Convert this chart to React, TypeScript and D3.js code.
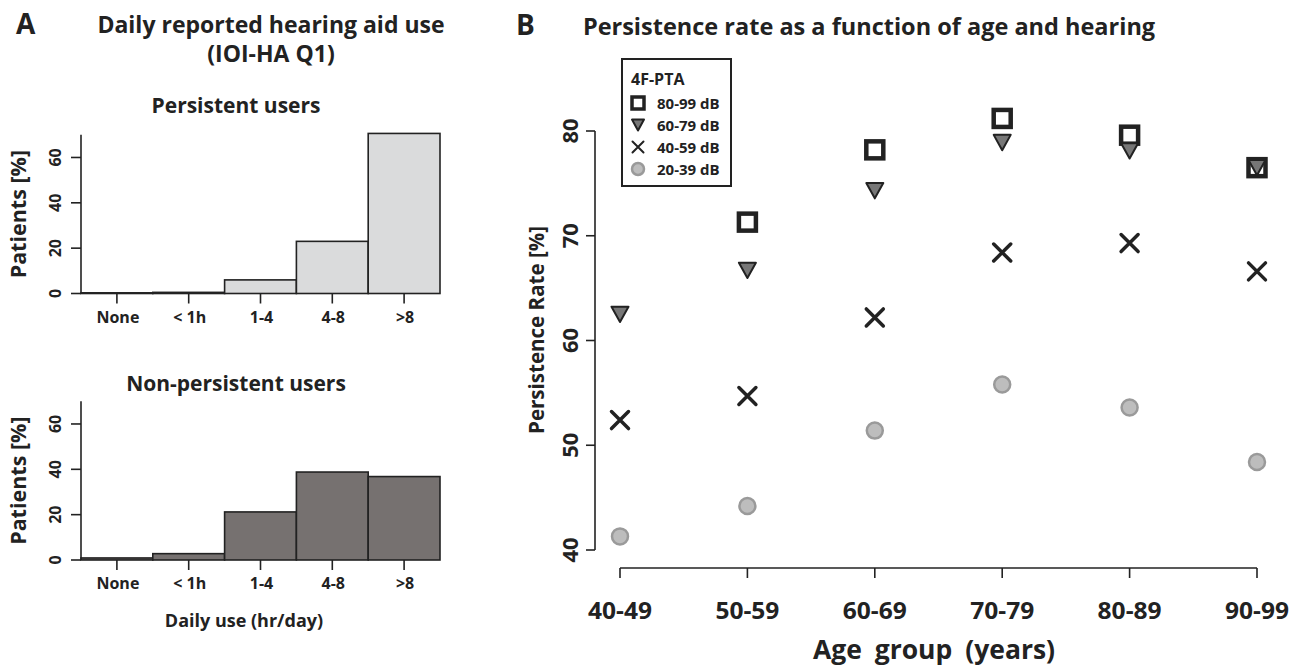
import React from "react";
import * as d3 from "d3";

const useCats = ["None", "< 1h", "1-4", "4-8", ">8"];
const persistent = [0.3, 0.5, 6, 23, 70.6];
const nonPersistent = [0.9, 2.8, 21.2, 38.8, 36.8];
const histTicks = [0, 20, 40, 60];

const ageGroups = ["40-49", "50-59", "60-69", "70-79", "80-89", "90-99"];
const rateTicks = [40, 50, 60, 70, 80];
const pta8099 = [null, 71.3, 78.2, 81.2, 79.6, 76.5];
const pta6079 = [62.5, 66.7, 74.3, 78.9, 78.1, 76.5];
const pta4059 = [52.4, 54.7, 62.2, 68.4, 69.3, 66.6];
const pta2039 = [41.3, 44.2, 51.4, 55.8, 53.6, 48.4];
const legendLabels = ["80-99 dB", "60-79 dB", "40-59 dB", "20-39 dB"];

const INK = "#222";
const FONT = "'Open Sans', 'Noto Sans', sans-serif";

function Hist({ values, top, fill, title, titleY, showXLabel }: any) {
  const x = d3.scaleBand().domain(useCats).range([81, 440]).paddingInner(0);
  const y = d3.scaleLinear().domain([0, 70]).range([top + 158.7, top]);
  const base = y(0);
  return (
    <g>
      <text x={236} y={titleY} textAnchor="middle" fontSize={21} fontWeight={700} fill={INK}>{title}</text>
      {values.map((v: number, i: number) => (
        <rect key={i} x={x(useCats[i])} y={y(v)} width={x.bandwidth()} height={base - y(v)}
          fill={fill} stroke={INK} strokeWidth={1.6} />
      ))}
      <line x1={81} x2={81} y1={y(70)} y2={base} stroke={INK} strokeWidth={1.6} />
      {histTicks.map((t) => (
        <g key={t}>
          <line x1={71} x2={81} y1={y(t)} y2={y(t)} stroke={INK} strokeWidth={1.6} />
          <text transform={`translate(61,${y(t)}) rotate(-90)`} textAnchor="middle" fontSize={16} fontWeight={700} fill={INK}>{t}</text>
        </g>
      ))}
      {useCats.map((c) => {
        const cx = (x(c) as number) + x.bandwidth() / 2;
        return (
          <g key={c}>
            <line x1={cx} x2={cx} y1={base} y2={base + 10} stroke={INK} strokeWidth={1.6} />
            <text x={cx + 1} y={base + 29} textAnchor="middle" fontSize={16} fontWeight={700} fill={INK}>{c}</text>
          </g>
        );
      })}
      <text transform={`translate(26,${y(35)}) rotate(-90)`} textAnchor="middle" fontSize={21.5} fontWeight={700} fill={INK}>Patients [%]</text>
      {showXLabel && (
        <text x={244} y={627} textAnchor="middle" fontSize={18} fontWeight={700} fill={INK}>Daily use (hr/day)</text>
      )}
    </g>
  );
}

function Square({ cx, cy, s, w }: any) {
  return <rect x={cx - s / 2} y={cy - s / 2} width={s} height={s} fill="#fff" stroke={INK} strokeWidth={w} />;
}
function Tri({ cx, cy, s }: any) {
  const h = s * 0.9;
  return (
    <path d={`M${cx - s / 2},${cy - h / 2}L${cx + s / 2},${cy - h / 2}L${cx},${cy + h / 2}Z`}
      fill="#777" stroke={INK} strokeWidth={2} strokeLinejoin="round" />
  );
}
function Cross({ cx, cy, s, w }: any) {
  const r = s / 2;
  return (
    <path d={`M${cx - r},${cy - r}L${cx + r},${cy + r}M${cx - r},${cy + r}L${cx + r},${cy - r}`}
      stroke={INK} strokeWidth={w} strokeLinecap="round" />
  );
}
function Dot({ cx, cy, r }: any) {
  return <circle cx={cx} cy={cy} r={r} fill="#bdbdbd" stroke="#9a9a9a" strokeWidth={2.5} />;
}

function PanelB() {
  const x = d3.scalePoint().domain(ageGroups).range([620, 1257]);
  const y = d3.scaleLinear().domain([40, 80]).range([550, 131]);
  const axisY = 568;
  const legY = [103, 125, 147, 169];
  return (
    <g>
      <text x={516} y={35} fontSize={28} fontWeight={700} fill={INK}>B</text>
      <text x={869} y={35} textAnchor="middle" fontSize={23.5} fontWeight={700} fill={INK}>Persistence rate as a function of age and hearing</text>

      <line x1={595} x2={595} y1={y(80)} y2={y(40)} stroke={INK} strokeWidth={1.6} />
      {rateTicks.map((t) => (
        <g key={t}>
          <line x1={586} x2={595} y1={y(t)} y2={y(t)} stroke={INK} strokeWidth={1.6} />
          <text transform={`translate(578,${y(t)}) rotate(-90)`} textAnchor="middle" fontSize={22} fontWeight={700} fill={INK}>{t}</text>
        </g>
      ))}
      <text transform={`translate(544,330) rotate(-90)`} textAnchor="middle" fontSize={21} fontWeight={700} fill={INK}
        textLength={208} lengthAdjust="spacingAndGlyphs">Persistence Rate [%]</text>

      <line x1={x(ageGroups[0])} x2={x(ageGroups[5])} y1={axisY} y2={axisY} stroke={INK} strokeWidth={1.6} />
      {ageGroups.map((a) => (
        <g key={a}>
          <line x1={x(a)} x2={x(a)} y1={axisY} y2={axisY + 10} stroke={INK} strokeWidth={1.6} />
          <text x={x(a)} y={619} textAnchor="middle" fontSize={23} fontWeight={700} fill={INK}
            textLength={64} lengthAdjust="spacingAndGlyphs">{a}</text>
        </g>
      ))}
      <text x={934} y={659} textAnchor="middle" fontSize={26.5} fontWeight={700} fill={INK} wordSpacing={6}>Age group (years)</text>

      {pta2039.map((v, i) => <Dot key={"c" + i} cx={x(ageGroups[i])} cy={y(v)} r={8} />)}
      {pta4059.map((v, i) => <Cross key={"x" + i} cx={x(ageGroups[i])} cy={y(v)} s={17} w={3.5} />)}
      {pta8099.map((v, i) => v == null ? null : <Square key={"s" + i} cx={x(ageGroups[i])} cy={y(v)} s={17} w={4.5} />)}
      {pta6079.map((v, i) => <Tri key={"t" + i} cx={x(ageGroups[i])} cy={y(v)} s={17} />)}

      <rect x={622} y={59} width={109} height={127} fill="#fff" stroke={INK} strokeWidth={2} />
      <text x={631} y={85} fontSize={16} fontWeight={700} fill={INK}>4F-PTA</text>
      <Square cx={638} cy={legY[0]} s={12} w={3.5} />
      <Tri cx={638} cy={legY[1]} s={12} />
      <Cross cx={638} cy={legY[2]} s={11} w={2} />
      <Dot cx={638} cy={legY[3]} r={6} />
      {legendLabels.map((l, i) => (
        <text key={l} x={657} y={legY[i] + 5.5} fontSize={15} fontWeight={700} fill={INK}>{l}</text>
      ))}
    </g>
  );
}

export default function App() {
  return (
    <svg width={1300} height={669} style={{ position: "absolute", left: 0, top: 0, fontFamily: FONT, background: "#fff" }}>
      <rect width={1300} height={669} fill="#fff" />
      <text x={16} y={34} fontSize={28} fontWeight={700} fill={INK}>A</text>
      <text x={271} y={33} textAnchor="middle" fontSize={23} fontWeight={700} fill={INK}>Daily reported hearing aid use</text>
      <text x={271} y={62} textAnchor="middle" fontSize={23} fontWeight={700} fill={INK}>(IOI-HA Q1)</text>
      <Hist values={persistent} top={134.8} fill="#dadbdc" title="Persistent users" titleY={113} />
      <Hist values={nonPersistent} top={401.3} fill="#767170" title="Non-persistent users" titleY={391} showXLabel />
      <PanelB />
    </svg>
  );
}
